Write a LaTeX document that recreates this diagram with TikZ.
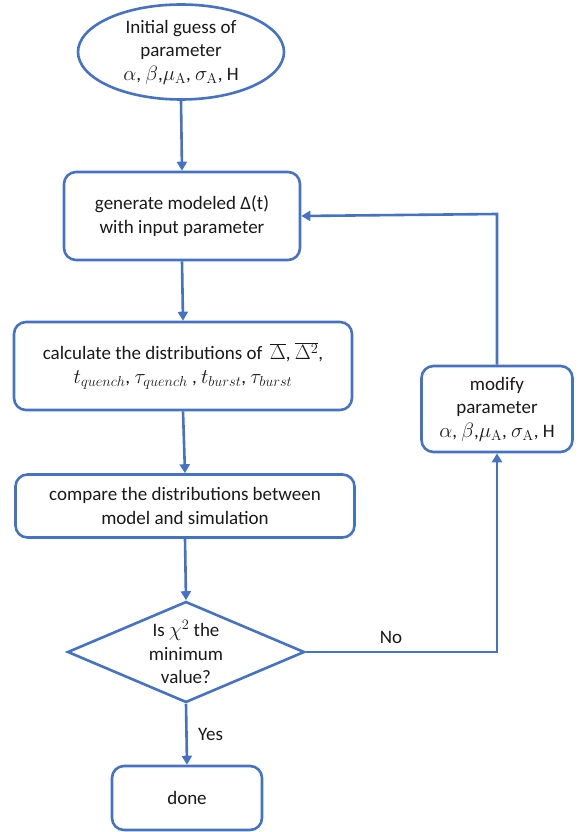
\documentclass[tikz,border=0pt]{standalone}
\usepackage[no-math]{fontspec}
\setmainfont{Carlito}
\usetikzlibrary{shapes.geometric,arrows.meta}
\definecolor{lineblue}{RGB}{68,114,196}
\definecolor{txt}{RGB}{25,25,25}
\newcommand{\mymath}[1]{{\fontsize{21}{23.5}\selectfont$#1$}}
\tikzset{
  every picture/.style={x=1pt,y=-1pt},
  boxstyle/.style={draw=lineblue,line width=2.6pt,rounded corners=12pt,fill=white,align=center,inner sep=0pt,text=txt},
  conn/.style={draw=lineblue,line width=2.6pt,-{Triangle[length=9pt,width=10pt]}},
}
\begin{document}
\begin{tikzpicture}[font=\fontsize{19}{23.5}\selectfont,text=txt]
\useasboundingbox (0,0) rectangle (579,832);
\node[ellipse,draw=lineblue,line width=2.6pt,minimum width=206pt,minimum height=95pt,inner sep=0pt,align=center] (init) at (181,52)
  {Initial guess of\\parameter\\\mymath{\alpha}, \mymath{\beta},\mymath{\mu_{\mathrm{A}}}, \mymath{\sigma_{\mathrm{A}}}, H};
\node[boxstyle,minimum width=236pt,minimum height=88pt] (gen) at (182,216)
  {generate modeled Δ(t)\\with input parameter};
\node[boxstyle,minimum width=338pt,minimum height=88pt] (calc) at (183,366)
  {calculate the distributions of \,\mymath{\overline{\Delta}}, \mymath{\overline{\Delta^2}},\\\mymath{t_{quench}}, \mymath{\tau_{quench}} , \mymath{t_{burst}}, \mymath{\tau_{burst}}};
\node[boxstyle,minimum width=339pt,minimum height=63pt] (comp) at (185,506)
  {compare the distributions between\\model and simulation};
\node[diamond,draw=lineblue,line width=2.6pt,minimum width=237pt,minimum height=101pt,inner sep=0pt,aspect=2.35,align=center] (dec) at (186,652)
  {Is \mymath{\chi^2} the\\minimum\\value?};
\node[boxstyle,minimum width=151pt,minimum height=86pt] (mod) at (497,409)
  {modify\\parameter\\\mymath{\alpha}, \mymath{\beta},\mymath{\mu_{\mathrm{A}}}, \mymath{\sigma_{\mathrm{A}}}, H};
\node[boxstyle,minimum width=150pt,minimum height=64pt] (done) at (187,798) {done};
\coordinate (c1) at (497,652);
\coordinate (c2) at (497,214);
\draw[conn] (init.south) -- (gen.north);
\draw[conn] (gen.south) -- (calc.north);
\draw[conn] (calc.south) -- (comp.north);
\draw[conn] (comp.south) -- (dec.north);
\draw[conn] (dec.east) -- (c1) -- (mod.south);
\draw[conn] (mod.north) -- (c2) -- (gen.east);
\draw[conn] (dec.south) -- node[right=7pt,pos=0.5] (yes) {Yes} (done.north);
\node (no) at (391,637) {No};
\end{tikzpicture}
\end{document}
